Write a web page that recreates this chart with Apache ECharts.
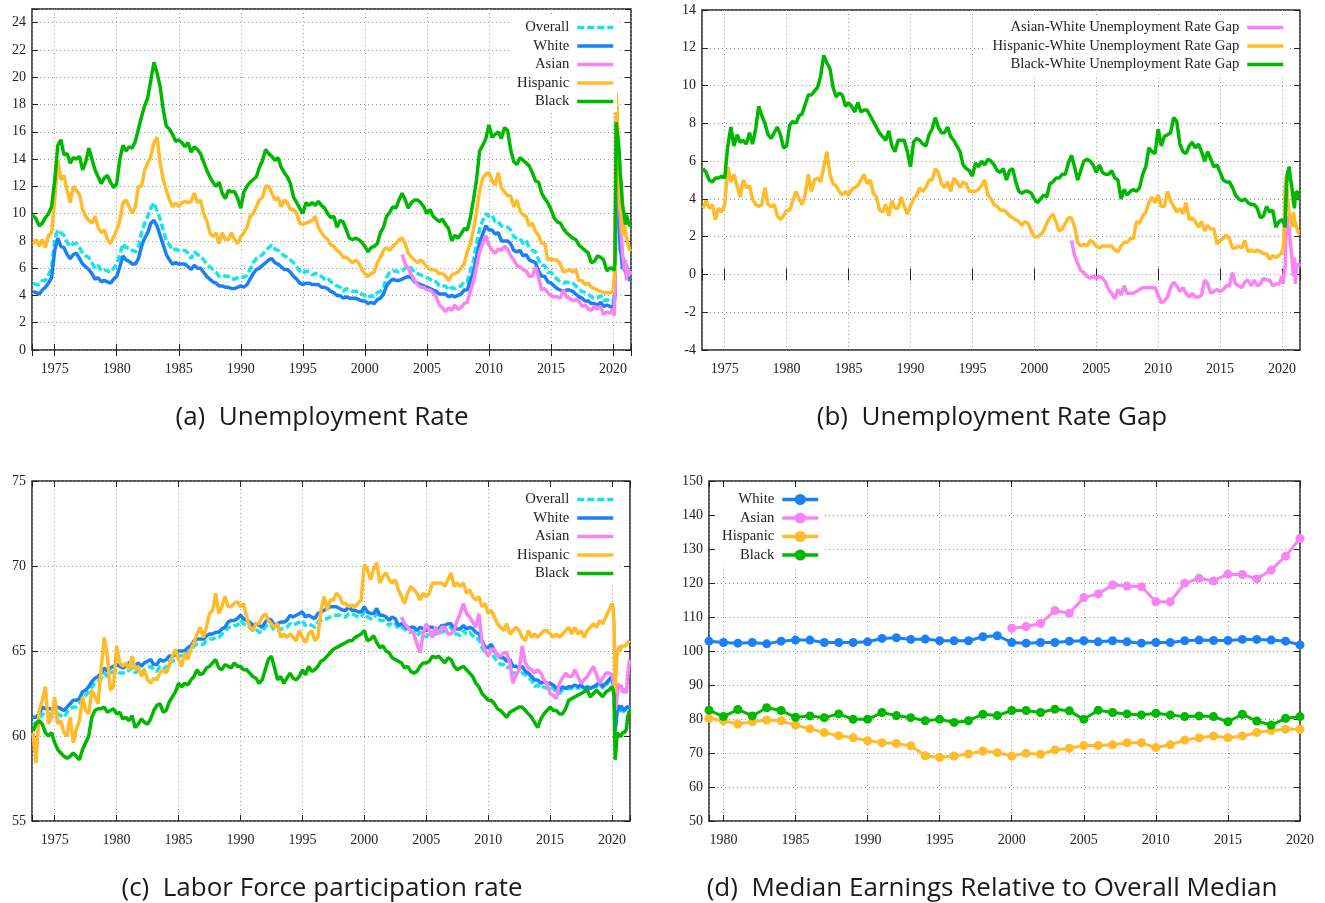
<!DOCTYPE html>
<html>
<head>
<meta charset="utf-8">
<title>Unemployment, participation and earnings by race</title>
<script src="https://cdn.jsdelivr.net/npm/echarts@6.0.0/dist/echarts.min.js"></script>
<style>
  html, body { margin: 0; padding: 0; background: #fff; }
  #main { width: 1325px; height: 903px; }
</style>
</head>
<body>
<div id="main"></div>
<script>
// unemployment rate, quarterly samples 1973Q2..2019Q4 (one row per year)
var urOverallQ = [
  4.9, 4.8, 4.8,
  5.1, 5.1, 5.5, 6.0,  8.1, 8.8, 8.6, 8.4,  7.9, 7.6, 7.8, 7.8,  7.5, 7.1, 6.9, 6.8,
  6.4, 6.0, 6.2, 5.8,  5.9, 5.8, 5.7, 6.0,  6.3, 7.0, 7.8, 7.5,  7.5, 7.3, 7.2, 7.6,
  8.6, 9.3, 9.8, 10.4,  10.8, 10.2, 9.6, 8.8,  8.0, 7.7, 7.3, 7.4,  7.3, 7.3, 7.3, 7.1,
  6.7, 7.2, 7.0, 6.9,  6.6, 6.3, 6.1, 5.9,  5.7, 5.4, 5.5, 5.4,  5.4, 5.2, 5.2, 5.3,
  5.4, 5.3, 5.5, 5.9,  6.4, 6.7, 6.8, 7.0,  7.3, 7.5, 7.7, 7.4,  7.3, 7.1, 6.9, 6.8,
  6.6, 6.4, 6.1, 5.8,  5.6, 5.8, 5.7, 5.5,  5.6, 5.6, 5.4, 5.2,  5.3, 5.0, 4.9, 4.7,
  4.6, 4.3, 4.5, 4.4,  4.3, 4.3, 4.3, 4.1,  4.0, 3.8, 4.0, 3.9,  4.2, 4.3, 4.6, 5.3,
  5.7, 5.8, 5.8, 5.7,  5.8, 6.0, 6.2, 6.0,  5.7, 5.6, 5.5, 5.4,  5.3, 5.2, 5.0, 5.0,
  4.7, 4.7, 4.7, 4.4,  4.6, 4.5, 4.6, 4.7,  5.0, 5.0, 5.8, 6.5,  7.8, 8.9, 9.5, 10.0,
  9.8, 9.9, 9.4, 9.4,  9.1, 9.0, 9.0, 8.8,  8.3, 8.2, 8.2, 7.8,  8.0, 7.5, 7.3, 7.2,
  6.6, 6.2, 6.2, 5.7,  5.7, 5.4, 5.2, 5.0,  4.9, 5.0, 4.9, 4.9,  4.7, 4.4, 4.3, 4.2,
  4.1, 3.9, 3.8, 3.8,  4.0, 3.6, 3.7, 3.6
];
var urWhiteQ = [
  4.3, 4.2, 4.1,
  4.4, 4.6, 4.9, 5.3,  7.3, 8.2, 7.6, 7.5,  7.0, 6.7, 7.0, 7.1,  6.7, 6.3, 6.1, 5.9,
  5.6, 5.2, 5.3, 5.0,  5.1, 5.0, 4.9, 5.2,  5.4, 6.1, 6.9, 6.6,  6.5, 6.3, 6.3, 6.7,
  7.6, 8.2, 8.6, 9.3,  9.5, 9.1, 8.4, 7.7,  7.0, 6.6, 6.3, 6.4,  6.3, 6.3, 6.3, 6.1,
  5.9, 6.2, 6.0, 6.0,  5.7, 5.4, 5.2, 5.0,  4.9, 4.7, 4.7, 4.6,  4.6, 4.5, 4.5, 4.6,
  4.7, 4.6, 4.8, 5.2,  5.6, 5.9, 6.0, 6.2,  6.4, 6.6, 6.7, 6.4,  6.3, 6.1, 5.9, 5.9,
  5.7, 5.4, 5.2, 4.9,  4.8, 4.9, 4.9, 4.8,  4.8, 4.8, 4.6, 4.6,  4.5, 4.3, 4.2, 4.0,
  4.0, 3.8, 3.9, 3.8,  3.8, 3.8, 3.7, 3.6,  3.6, 3.4, 3.5, 3.4,  3.7, 3.8, 4.1, 4.7,
  5.0, 5.2, 5.1, 5.1,  5.2, 5.3, 5.4, 5.3,  5.0, 4.9, 4.8, 4.7,  4.6, 4.5, 4.4, 4.3,
  4.1, 4.1, 4.1, 3.9,  4.0, 3.9, 4.0, 4.1,  4.4, 4.4, 5.1, 5.7,  6.8, 7.9, 8.5, 9.1,
  8.8, 8.8, 8.5, 8.6,  8.0, 8.0, 8.0, 7.8,  7.3, 7.2, 7.3, 6.9,  7.0, 6.6, 6.5, 6.4,
  5.8, 5.4, 5.4, 5.0,  4.9, 4.7, 4.5, 4.4,  4.3, 4.4, 4.4, 4.3,  4.1, 3.9, 3.8, 3.6,
  3.6, 3.4, 3.4, 3.3,  3.5, 3.2, 3.3, 3.2
];
// Asian series starts 2003Q1
var urAsianQ = [
  7.0, 6.3, 6.0, 5.5,  5.1, 4.8, 4.6, 4.6,  4.4, 4.4, 4.2, 3.9,  3.3, 3.1, 2.8, 3.1,
  2.9, 3.3, 3.0, 3.1,  3.4, 3.5, 4.3, 5.0,  6.1, 7.2, 7.8, 8.4,  7.7, 7.3, 7.1, 7.4,
  7.3, 7.6, 7.4, 6.9,  6.6, 6.2, 6.1, 5.9,  5.8, 5.4, 5.4, 6.1,  5.3, 4.4, 4.5, 4.2,
  4.0, 3.9, 3.9, 3.8,  4.4, 3.9, 3.8, 3.6,  3.7, 3.6, 3.2, 3.3,  3.0, 2.9, 3.2, 3.0,
  3.2, 2.6, 2.8, 2.7
];
var urHispanicQ = [
  7.8, 8.1, 7.6,
  8.1, 7.5, 8.4, 8.6,  11.0, 13.9, 12.5, 12.8,  11.7, 10.8, 12.0, 11.7,  11.4, 10.3, 9.8, 9.5,
  9.3, 9.8, 9.0, 8.6,  8.8, 8.1, 7.8, 8.3,  8.8, 9.5, 10.8, 11.0,  10.5, 10.0, 10.5, 12.0,
  12.0, 13.2, 13.7, 14.2,  15.2, 15.6, 13.7, 12.5,  11.7, 11.0, 10.5, 10.8,  10.5, 10.8, 10.9, 10.8,
  10.9, 11.5, 10.8, 11.0,  10.0, 9.5, 8.6, 8.3,  8.6, 7.8, 8.6, 8.1,  8.1, 8.6, 8.1, 7.8,
  8.3, 8.6, 9.0, 9.8,  10.0, 10.5, 11.0, 11.2,  12.0, 12.0, 11.5, 11.0,  11.2, 10.5, 11.0, 10.8,
  10.3, 10.3, 10.0, 9.3,  9.2, 9.3, 9.4, 9.5,  9.8, 9.0, 8.6, 8.3,  8.1, 7.7, 7.6, 7.3,
  7.1, 6.8, 6.8, 6.6,  6.4, 6.6, 6.4, 5.9,  5.6, 5.4, 5.6, 5.7,  6.4, 6.8, 7.3, 7.5,
  7.3, 7.6, 7.8, 8.1,  8.2, 7.8, 7.1, 6.8,  6.6, 6.4, 6.6, 6.4,  6.1, 5.9, 5.9, 5.8,
  5.6, 5.6, 5.4, 5.1,  5.5, 5.6, 5.7, 6.0,  6.3, 7.2, 7.8, 8.8,  10.1, 11.7, 12.6, 12.9,
  13.0, 12.4, 12.1, 13.0,  11.9, 11.6, 11.3, 11.3,  10.5, 11.0, 10.2, 9.9,  9.8, 9.1, 9.3, 8.7,
  8.4, 7.8, 7.8, 6.6,  6.7, 6.6, 6.6, 6.3,  5.7, 5.8, 5.9, 5.7,  5.9, 5.1, 5.1, 4.8,
  4.9, 4.6, 4.5, 4.4,  4.3, 4.2, 4.2, 4.2
];
var urBlackQ = [
  9.9, 9.6, 9.1,
  9.3, 9.7, 10.0, 10.5,  12.4, 15.0, 15.4, 14.3,  14.4, 13.7, 14.1, 14.0,  14.2, 13.2, 13.8, 14.8,
  14.0, 13.2, 12.7, 12.2,  12.6, 12.8, 12.3, 11.9,  12.2, 14.0, 15.0, 14.6,  14.9, 14.8, 15.3, 16.2,
  17.1, 17.9, 18.5, 19.8,  21.1, 20.3, 19.3, 17.6,  16.4, 16.2, 15.8, 15.3,  15.4, 15.2, 14.9, 15.2,
  14.5, 14.9, 14.7, 14.4,  13.8, 13.2, 12.7, 12.3,  12.0, 12.3, 11.5, 11.1,  11.7, 11.6, 11.6, 11.1,
  10.4, 11.6, 12.0, 12.3,  12.5, 12.7, 13.4, 13.9,  14.7, 14.4, 14.2, 13.9,  14.1, 13.4, 13.0, 12.7,
  12.2, 11.2, 10.8, 10.4,  10.0, 10.8, 10.6, 10.8,  10.6, 10.9, 10.6, 10.4,  10.0, 9.7, 9.8, 9.0,
  9.5, 9.4, 8.8, 8.2,  8.1, 8.2, 8.1, 7.9,  7.6, 7.2, 7.5, 7.6,  7.8, 8.6, 9.0, 9.8,
  10.1, 10.5, 10.4, 11.0,  11.5, 11.0, 10.4, 10.8,  11.0, 11.0, 10.8, 10.5,  10.0, 10.3, 9.8, 9.6,
  9.4, 9.6, 9.2, 8.9,  8.0, 8.4, 8.2, 8.5,  8.9, 8.8, 9.7, 11.0,  12.5, 14.6, 15.0, 15.5,
  16.5, 15.6, 15.8, 16.0,  15.5, 16.3, 16.1, 14.7,  13.8, 13.6, 14.1, 13.9,  13.7, 13.5, 13.0, 12.4,
  12.3, 11.5, 11.1, 10.8,  10.3, 9.7, 9.4, 9.3,  8.9, 8.6, 8.4, 8.2,  8.1, 7.7, 7.5, 7.3,
  7.1, 6.4, 6.5, 6.9,  6.8, 6.6, 5.8, 6.0
];
// monthly, Jan 2020 .. Jun 2021
var urOverallM = [3.5, 3.5, 4.4, 14.7, 13.2, 11.0, 10.2, 8.4, 7.8, 6.9, 6.7, 6.7, 6.4, 6.2, 6.0, 6.1, 5.8, 5.9];
var urWhiteM = [3.1, 3.0, 4.0, 14.2, 12.4, 10.1, 9.2, 7.3, 7.0, 6.0, 5.9, 6.0, 5.7, 5.6, 5.4, 5.3, 5.1, 5.2];
var urAsianM = [3.0, 2.5, 4.1, 14.5, 14.8, 13.2, 11.5, 9.8, 8.6, 7.2, 6.5, 5.9, 6.6, 5.1, 6.0, 5.7, 5.5, 5.8];
var urHispanicM = [4.3, 4.4, 6.0, 18.9, 17.6, 14.5, 12.9, 10.5, 10.3, 8.8, 8.4, 9.3, 8.6, 8.5, 7.9, 7.9, 7.3, 7.4];
var urBlackM = [6.0, 5.8, 6.7, 16.7, 16.8, 15.4, 14.5, 13.0, 12.1, 10.8, 10.3, 9.9, 9.2, 9.9, 9.6, 9.7, 9.1, 9.2];

// labor force participation rate, same sampling
var lfOverallQ = [
  60.7, 60.8, 60.9,
  61.3, 61.2, 61.3, 61.2,  61.2, 61.3, 61.2, 61.1,  61.4, 61.6, 61.7, 61.7,  61.9, 62.3, 62.4, 62.6,
  62.9, 63.1, 63.2, 63.4,  63.7, 63.5, 63.7, 63.8,  63.9, 63.7, 63.7, 63.7,  63.9, 64.0, 63.7, 63.9,
  63.7, 63.9, 64.0, 64.1,  63.9, 63.8, 64.1, 64.0,  64.0, 64.4, 64.4, 64.5,  64.7, 64.7, 64.7, 64.9,
  65.0, 65.3, 65.4, 65.4,  65.4, 65.6, 65.7, 65.7,  65.8, 65.8, 66.0, 66.1,  66.4, 66.4, 66.5, 66.5,
  66.8, 66.6, 66.5, 66.4,  66.2, 66.3, 66.1, 66.1,  66.4, 66.6, 66.5, 66.2,  66.2, 66.3, 66.3, 66.4,
  66.6, 66.5, 66.6, 66.7,  66.8, 66.5, 66.6, 66.5,  66.4, 66.7, 66.8, 66.9,  66.9, 67.0, 67.1, 67.1,
  67.1, 67.0, 67.0, 67.2,  67.2, 67.1, 67.0, 67.0,  67.3, 67.0, 66.9, 66.9,  67.2, 66.8, 66.8, 66.7,
  66.5, 66.7, 66.6, 66.3,  66.4, 66.3, 66.1, 66.1,  66.1, 65.9, 66.1, 66.0,  65.8, 66.1, 66.1, 66.0,
  66.0, 66.1, 66.2, 66.3,  66.4, 66.0, 66.0, 65.9,  66.2, 66.0, 66.1, 65.9,  65.7, 65.7, 65.2, 64.9,
  64.8, 65.0, 64.6, 64.4,  64.2, 64.2, 64.0, 64.1,  63.7, 63.7, 63.6, 63.7,  63.6, 63.4, 63.3, 62.9,
  63.0, 62.8, 62.9, 62.8,  62.9, 62.8, 62.6, 62.5,  62.7, 62.7, 62.8, 62.8,  62.9, 62.8, 62.9, 62.7,
  62.9, 62.8, 62.9, 62.9,  63.1, 62.8, 63.0, 63.2
];
var lfWhiteQ = [
  61.1, 61.1, 61.3,
  61.7, 61.6, 61.6, 61.6,  61.6, 61.7, 61.6, 61.5,  61.7, 61.9, 62.1, 62.1,  62.2, 62.6, 62.7, 62.9,
  63.2, 63.4, 63.5, 63.7,  64.0, 63.8, 64.0, 64.1,  64.2, 64.1, 64.0, 64.1,  64.3, 64.4, 64.1, 64.3,
  64.1, 64.3, 64.4, 64.5,  64.2, 64.2, 64.5, 64.4,  64.5, 64.7, 64.7, 64.8,  65.0, 65.0, 65.0, 65.2,
  65.3, 65.6, 65.7, 65.7,  65.7, 65.9, 66.0, 66.0,  66.1, 66.1, 66.3, 66.4,  66.7, 66.8, 66.8, 66.9,
  67.1, 66.9, 66.8, 66.7,  66.5, 66.6, 66.5, 66.4,  66.7, 66.9, 66.8, 66.5,  66.6, 66.7, 66.7, 66.8,
  67.1, 67.0, 67.1, 67.2,  67.3, 67.0, 67.1, 67.0,  66.9, 67.2, 67.3, 67.4,  67.5, 67.6, 67.6, 67.6,
  67.5, 67.4, 67.4, 67.6,  67.4, 67.4, 67.3, 67.3,  67.6, 67.3, 67.2, 67.2,  67.5, 67.1, 67.1, 67.0,
  66.8, 67.0, 66.9, 66.5,  66.6, 66.5, 66.3, 66.4,  66.4, 66.2, 66.4, 66.3,  66.2, 66.4, 66.4, 66.3,
  66.3, 66.5, 66.5, 66.6,  66.6, 66.3, 66.3, 66.3,  66.5, 66.3, 66.4, 66.3,  66.1, 66.0, 65.6, 65.2,
  65.2, 65.4, 65.0, 64.8,  64.6, 64.6, 64.4, 64.5,  64.1, 64.1, 64.0, 64.1,  63.8, 63.7, 63.5, 63.3,
  63.3, 63.1, 63.2, 63.1,  63.1, 63.0, 62.8, 62.7,  62.9, 62.8, 62.9, 62.9,  63.0, 62.9, 63.0, 62.8,
  62.9, 62.8, 62.9, 63.0,  63.2, 62.9, 63.1, 63.3
];
var lfAsianQ = [
  67.0, 66.6, 66.4, 66.2,  66.0, 65.4, 64.9, 66.0,  66.6, 66.2, 65.8, 66.4,  66.0, 66.4, 66.4, 66.0,
  66.0, 66.2, 66.8, 67.2,  67.8, 67.2, 67.0, 66.7,  66.4, 67.2, 65.5, 65.0,  64.7, 65.1, 65.1, 64.7,
  64.7, 64.9, 64.9, 64.3,  63.1, 63.6, 63.9, 65.3,  64.3, 64.0, 63.9, 63.7,  63.9, 63.7, 63.3, 63.1,
  62.5, 62.4, 62.2, 63.1,  63.4, 63.7, 63.5, 63.5,  63.9, 63.5, 63.1, 63.3,  63.5, 63.8, 64.1, 63.6,
  63.1, 63.4, 63.7, 63.7
];
var lfHispanicQ = [
  60.2, 58.4, 61.5,
  62.1, 62.9, 60.7, 61.1,  62.3, 60.7, 60.9, 60.2,  60.0, 61.1, 59.6, 60.4,  60.9, 62.3, 61.5, 61.3,
  62.7, 62.3, 61.9, 63.9,  65.8, 64.7, 62.7, 62.9,  65.3, 64.3, 64.1, 64.3,  63.9, 64.7, 63.9, 64.1,
  63.5, 63.9, 63.3, 63.1,  63.4, 63.3, 63.7, 63.9,  63.7, 64.1, 64.7, 65.1,  64.5, 64.1, 64.9, 64.5,
  65.1, 65.5, 66.0, 66.4,  65.8, 66.4, 67.2, 67.4,  68.4, 67.2, 67.6, 68.2,  67.6, 67.6, 67.8, 67.9,
  67.6, 67.8, 67.0, 66.4,  66.2, 66.6, 66.6, 67.0,  67.2, 66.8, 66.6, 66.4,  66.6, 65.8, 66.0, 65.8,
  66.0, 65.8, 65.6, 66.2,  65.8, 65.5, 66.0, 66.2,  65.6, 65.8, 67.4, 68.2,  67.4, 68.0, 68.0, 68.4,
  68.2, 67.8, 67.8, 67.6,  67.7, 67.6, 67.8, 68.0,  70.1, 69.8, 69.2, 69.8,  70.2, 69.0, 69.4, 69.6,
  69.2, 69.0, 69.2, 68.6,  68.2, 67.8, 68.4, 68.8,  68.6, 68.4, 68.0, 68.4,  68.2, 68.4, 69.0, 69.0,
  69.0, 69.0, 68.8, 69.2,  69.6, 68.8, 69.0, 68.8,  69.0, 68.4, 68.6, 68.2,  68.0, 68.2, 67.6, 67.8,
  67.2, 67.4, 67.0, 66.6,  66.4, 66.2, 66.6, 66.0,  66.2, 66.4, 66.2, 65.8,  65.6, 66.2, 65.8, 66.0,
  65.8, 66.0, 66.2, 66.2,  66.0, 65.8, 66.0, 65.8,  66.0, 66.2, 66.4, 66.0,  66.4, 66.0, 66.2, 65.8,
  66.2, 66.4, 66.6, 66.4,  66.8, 66.6, 67.0, 67.4
];
var lfBlackQ = [
  60.3, 60.7, 60.9,
  60.7, 60.2, 60.0, 60.2,  59.6, 59.2, 59.0, 58.8,  58.7, 58.8, 59.0, 58.8,  58.6, 59.2, 59.6, 60.0,
  61.1, 61.5, 61.6, 61.6,  61.7, 61.4, 61.5, 61.6,  61.3, 61.4, 61.0, 61.1,  60.9, 61.2, 60.5, 60.7,
  61.0, 60.8, 60.7, 61.0,  61.5, 61.8, 61.9, 61.4,  61.5, 62.0, 62.3, 62.6,  63.1, 62.9, 63.1, 63.0,
  63.3, 63.5, 63.9, 63.6,  63.7, 64.0, 64.1, 64.3,  64.5, 64.0, 63.9, 64.2,  64.1, 64.0, 64.3, 64.1,
  64.1, 63.9, 63.9, 63.7,  63.5, 63.4, 63.1, 63.3,  63.9, 64.5, 64.7, 64.0,  63.3, 63.5, 63.1, 63.4,
  63.7, 63.4, 63.3, 63.5,  63.9, 63.6, 64.1, 63.8,  63.9, 64.1, 64.4, 64.5,  64.7, 64.9, 65.1, 65.2,
  65.3, 65.4, 65.5, 65.6,  65.6, 65.8, 65.9, 66.0,  66.2, 65.6, 65.7, 65.9,  65.5, 65.2, 65.3, 65.0,
  64.9, 64.6, 64.5, 64.4,  64.3, 64.0, 64.1, 63.8,  63.7, 63.8, 64.1, 64.3,  64.3, 64.4, 64.7, 64.6,
  64.7, 64.5, 64.3, 64.6,  64.5, 64.1, 63.9, 64.0,  64.1, 63.9, 63.7, 63.5,  63.1, 62.9, 62.5, 62.3,
  62.1, 62.1, 61.9, 61.6,  61.5, 61.3, 61.1, 61.4,  61.5, 61.6, 61.7, 61.7,  61.5, 61.3, 61.1, 60.8,
  60.5, 61.0, 61.3, 61.5,  61.7, 61.5, 61.5, 61.3,  61.3, 61.6, 62.1, 62.2,  62.3, 62.4, 62.5, 62.6,
  62.7, 62.3, 62.5, 62.7,  62.5, 62.3, 62.6, 62.7
];
var lfOverallM = [63.4, 63.3, 62.7, 60.2, 60.8, 61.4, 61.4, 61.7, 61.4, 61.7, 61.5, 61.5, 61.4, 61.5, 61.5, 61.7, 61.6, 61.6];
var lfWhiteM = [63.5, 63.4, 62.9, 60.4, 60.9, 61.6, 61.5, 61.8, 61.5, 61.8, 61.6, 61.6, 61.5, 61.6, 61.7, 61.8, 61.7, 61.7];
var lfAsianM = [63.6, 63.5, 63.0, 61.5, 61.9, 62.4, 63.1, 62.8, 62.7, 63.0, 62.6, 62.7, 62.6, 62.8, 62.5, 63.5, 64.0, 64.5];
var lfHispanicM = [67.8, 67.6, 66.6, 62.6, 63.8, 64.9, 65.1, 65.3, 65.0, 65.3, 65.2, 65.3, 65.2, 65.3, 65.4, 65.5, 65.4, 65.6];
var lfBlackM = [62.9, 62.7, 62.4, 58.6, 59.3, 60.2, 60.2, 60.0, 59.9, 60.0, 60.2, 60.1, 60.2, 60.3, 60.4, 61.1, 61.2, 61.5];

// median earnings relative to overall median, 1979..2020 (Asian from 2000)
var earnYears = [];
for (var y = 1979; y <= 2020; y++) earnYears.push(y);
var earnWhite = [102.9, 102.5, 102.3, 102.5, 102.1, 102.9, 103.2, 103.2, 102.5, 102.5, 102.5, 102.7, 103.7, 103.9,
  103.4, 103.5, 103.0, 103.0, 103.0, 104.2, 104.5, 102.5, 102.3, 102.5, 102.5, 102.9, 103.0, 102.7, 103.0, 102.7,
  102.3, 102.5, 102.5, 103.0, 103.2, 103.1, 103.1, 103.4, 103.4, 103.2, 102.9, 101.8];
var earnAsian = [106.7, 107.2, 108.1, 111.9, 111.1, 115.7, 116.8, 119.4, 119.1, 118.9, 114.5, 114.5, 119.9, 121.4,
  120.6, 122.6, 122.5, 121.2, 123.8, 127.9, 133.1];
var earnHispanic = [80.2, 79.5, 78.5, 79.2, 79.7, 79.5, 78.2, 77.1, 76.0, 75.1, 74.5, 73.6, 73.0, 72.8, 72.1, 69.2,
  68.7, 69.1, 69.7, 70.6, 70.1, 69.1, 69.9, 69.6, 70.9, 71.4, 72.2, 72.2, 72.4, 73.0, 73.0, 71.6, 72.4, 73.8, 74.5,
  75.0, 74.5, 75.0, 76.0, 76.6, 77.0, 77.0];
var earnBlack = [82.6, 80.7, 82.8, 80.9, 83.3, 82.5, 80.5, 80.9, 80.4, 81.5, 79.9, 79.9, 81.9, 81.0, 80.4, 79.5,
  79.9, 79.0, 79.5, 81.4, 81.0, 82.5, 82.5, 81.9, 82.9, 82.4, 79.9, 82.6, 81.9, 81.5, 81.2, 81.7, 81.2, 80.7, 80.9,
  80.7, 79.2, 81.4, 79.4, 78.2, 80.2, 80.7];

var captions = ['(a)  Unemployment Rate', '(b)  Unemployment Rate Gap',
  '(c)  Labor Force participation rate', '(d)  Median Earnings Relative to Overall Median'];

// sample dates (decimal years)
var quarterX = [];
for (var i = 0; i < 187; i++) quarterX.push(1973.25 + i * 0.25);
var monthX = [];
for (var m = 0; m < 18; m++) monthX.push(2020 + m / 12);

function toPairs(q, mth) {
  var off = quarterX.length - q.length;
  var out = q.map(function (v, i) { return [quarterX[off + i], v]; });
  return out.concat(mth.map(function (v, i) { return [monthX[i], v]; }));
}
function gapPairs(a, b) {
  var off = b.length - a.length;
  return a.map(function (p, i) { return [p[0], Math.round((p[1] - b[off + i][1]) * 10) / 10]; });
}
function yearPairs(vals) {
  var off = earnYears.length - vals.length;
  return vals.map(function (v, i) { return [earnYears[off + i], v]; });
}

var SERIF = '"Liberation Serif", "Times New Roman", serif';
var COL = { overall: '#19e3e8', white: '#1a80f8', asian: '#fa82f5', hispanic: '#ffbb2a', black: '#00b800' };
var TICK = { color: '#222', width: 1 };
var GRIDLINE = { color: '#9a9a9a', width: 1, type: [1, 3] };

function xAxes(g, min, max, split) {
  var base = { type: 'value', gridIndex: g, min: min, max: max, splitNumber: split,
    axisLine: { show: false }, axisTick: { show: true, inside: true, length: 6, lineStyle: TICK } };
  return [
    Object.assign({}, base, { position: 'bottom',
      axisLabel: { margin: 12, color: '#222', fontFamily: SERIF, fontSize: 14,
        formatter: function (v) { return v % 5 === 0 ? String(v) : ''; } },
      splitLine: { show: true, lineStyle: GRIDLINE } }),
    Object.assign({}, base, { position: 'top', axisLabel: { show: false }, splitLine: { show: false } })
  ];
}
function yAxes(g, min, max, step, lastLabel) {
  var base = { type: 'value', gridIndex: g, min: min, max: max, interval: step,
    axisLine: { show: false }, axisTick: { show: true, inside: true, length: 6, lineStyle: TICK } };
  return [
    Object.assign({}, base, { position: 'left',
      axisLabel: { margin: 6, color: '#222', fontFamily: SERIF, fontSize: 14,
        formatter: function (v) { return v > lastLabel ? '' : String(v); } },
      splitLine: { show: true, lineStyle: GRIDLINE } }),
    Object.assign({}, base, { position: 'right', axisLabel: { show: false }, splitLine: { show: false } })
  ];
}
function lineSeries(name, g, data, color, dashed) {
  return { name: name, type: 'line', xAxisIndex: 2 * g, yAxisIndex: 2 * g, data: data,
    symbol: 'none', showSymbol: false, itemStyle: { color: color },
    lineStyle: { color: color, width: 3.5, type: dashed ? [7, 3] : 'solid' } };
}
function dotSeries(name, data, color) {
  return { name: name, type: 'line', xAxisIndex: 6, yAxisIndex: 6, data: data,
    symbol: 'circle', symbolSize: 9, showSymbol: true, itemStyle: { color: color },
    lineStyle: { color: color, width: 3 } };
}
// withDots: panel (d) keys keep the marker, the others show a bare line
function legendAt(right, top, names, withDots) {
  var lg = { orient: 'vertical', align: 'right', right: right, top: top, selectedMode: false,
    itemWidth: 36, itemHeight: 14, itemGap: 3.5, padding: [3, 2, 3, 6], backgroundColor: '#fff',
    lineStyle: { width: 3.5 },
    textStyle: { fontFamily: SERIF, fontSize: 14.7, color: '#222', padding: [0, 3, 0, 0] },
    formatter: function (n) { return n.replace(' (d)', ''); },
    data: names };
  if (!withDots) lg.itemStyle = { color: 'rgba(0,0,0,0)', borderWidth: 0, opacity: 0 };
  return lg;
}

var urWhite = toPairs(urWhiteQ, urWhiteM);
var urAsian = toPairs(urAsianQ, urAsianM);
var urHispanic = toPairs(urHispanicQ, urHispanicM);
var urBlack = toPairs(urBlackQ, urBlackM);

var race = ['Overall', 'White', 'Asian', 'Hispanic', 'Black'];
var gapNames = ['Asian-White Unemployment Rate Gap', 'Hispanic-White Unemployment Rate Gap', 'Black-White Unemployment Rate Gap'];

var option = {
  animation: false,
  backgroundColor: '#fff',
  grid: [
    { left: 32, top: 9, width: 599, height: 341 },
    { left: 702, top: 10, width: 598, height: 340 },
    { left: 32, top: 481, width: 598, height: 340 },
    { left: 709, top: 481, width: 591, height: 340 }
  ].map(function (g) {
    return Object.assign({ show: true, borderColor: '#222', borderWidth: 1.5, outerBoundsMode: 'none' }, g);
  }),
  xAxis: [].concat(
    xAxes(0, 1973.17, 2021.45, 10), xAxes(1, 1973.17, 2021.45, 10),
    xAxes(2, 1973.17, 2021.45, 10), xAxes(3, 1979, 2020, 8)),
  yAxis: [].concat(
    yAxes(0, 0, 25, 2, 24), yAxes(1, -4, 14, 2, 14),
    yAxes(2, 55, 75, 5, 75), yAxes(3, 50, 150, 10, 150)),
  legend: [
    legendAt(708, 17, race),
    legendAt(38, 17, gapNames),
    legendAt(708, 489, race),
    legendAt(503, 489, ['White (d)', 'Asian (d)', 'Hispanic (d)', 'Black (d)'], true)
  ],
  graphic: captions.map(function (t, i) {
    return { type: 'text', x: i % 2 === 0 ? 322 : 992, y: i < 2 ? 418 : 889,
      style: { text: t, font: '26px "Open Sans", "Noto Sans", sans-serif', fill: '#1a1a1a',
        align: 'center', verticalAlign: 'middle' } };
  }),
  series: [
    lineSeries('Overall', 0, toPairs(urOverallQ, urOverallM), COL.overall, true),
    lineSeries('White', 0, urWhite, COL.white),
    lineSeries('Asian', 0, urAsian, COL.asian),
    lineSeries('Hispanic', 0, urHispanic, COL.hispanic),
    lineSeries('Black', 0, urBlack, COL.black),

    lineSeries(gapNames[0], 1, gapPairs(urAsian, urWhite), COL.asian),
    lineSeries(gapNames[1], 1, gapPairs(urHispanic, urWhite), COL.hispanic),
    lineSeries(gapNames[2], 1, gapPairs(urBlack, urWhite), COL.black),

    lineSeries('Overall', 2, toPairs(lfOverallQ, lfOverallM), COL.overall, true),
    lineSeries('White', 2, toPairs(lfWhiteQ, lfWhiteM), COL.white),
    lineSeries('Asian', 2, toPairs(lfAsianQ, lfAsianM), COL.asian),
    lineSeries('Hispanic', 2, toPairs(lfHispanicQ, lfHispanicM), COL.hispanic),
    lineSeries('Black', 2, toPairs(lfBlackQ, lfBlackM), COL.black),

    dotSeries('White (d)', yearPairs(earnWhite), COL.white),
    dotSeries('Asian (d)', yearPairs(earnAsian), COL.asian),
    dotSeries('Hispanic (d)', yearPairs(earnHispanic), COL.hispanic),
    dotSeries('Black (d)', yearPairs(earnBlack), COL.black)
  ]
};

var chart = echarts.init(document.getElementById('main'));
chart.setOption(option);
</script>
</body>
</html>
